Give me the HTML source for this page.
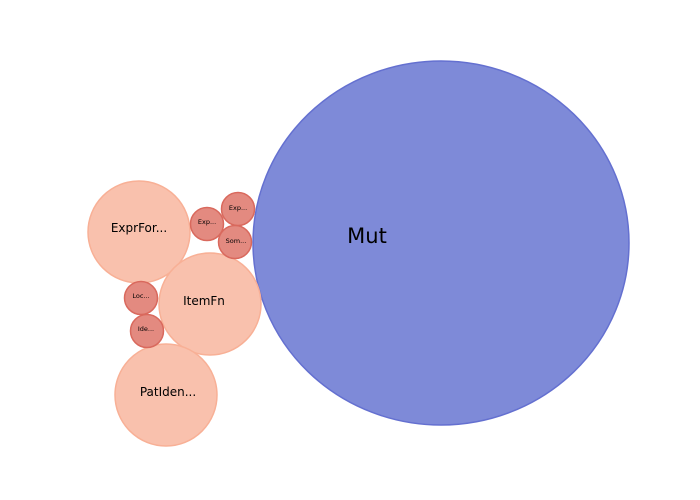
<!DOCTYPE html>
<html><head><meta charset="utf-8"><style>html,body{margin:0;padding:0;background:#fff;overflow:hidden;width:700px;height:500px}svg{display:block}</style></head>
<body>
<svg width="700" height="500" xmlns="http://www.w3.org/2000/svg" font-family="DejaVu Sans, Liberation Sans, sans-serif">
<ellipse cx="441" cy="243" rx="188" ry="182" fill="#7e8ad8" stroke="#6470d0" stroke-width="1.5"/>
<text x="367" y="243" font-size="21" text-anchor="middle">Mut</text>
<g fill="#f9c1ad" stroke="#f8b096" stroke-width="1.5">
<circle cx="139" cy="232" r="51"/>
<circle cx="210" cy="304" r="51"/>
<circle cx="166" cy="395" r="51"/>
</g>
<g font-size="12" text-anchor="middle">
<text x="139" y="232">ExprFor...</text>
<text x="204" y="305">ItemFn</text>
<text x="168" y="396">PatIden...</text>
</g>
<g fill="#e38a80" stroke="#d9695d" stroke-width="1.5">
<circle cx="207" cy="224" r="16.5"/>
<circle cx="238" cy="209" r="16.5"/>
<circle cx="235" cy="242" r="16.5"/>
<circle cx="141" cy="298" r="16.5"/>
<circle cx="147" cy="331" r="16.5"/>
</g>
<g font-size="6.5" text-anchor="middle">
<text x="207" y="224">Exp...</text>
<text x="238" y="210">Exp...</text>
<text x="236" y="243">Som...</text>
<text x="141" y="298">Loc...</text>
<text x="146" y="331">Ide...</text>
</g>
</svg>
</body></html>
